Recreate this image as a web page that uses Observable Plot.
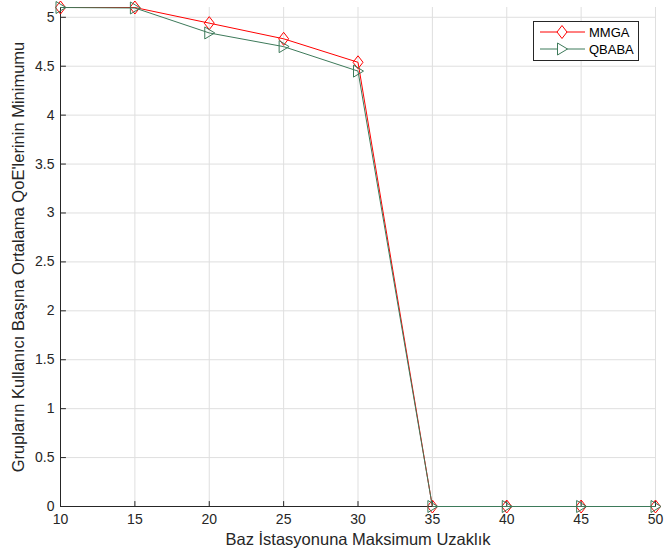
<!DOCTYPE html>
<html><head><meta charset="utf-8">
<script src="https://cdn.jsdelivr.net/npm/d3@7"></script>
<script src="https://cdn.jsdelivr.net/npm/@observablehq/plot@0.6"></script>
<style>
body{margin:0;background:#fff;}
#wrap{position:relative;width:664px;height:559px;font-family:"Liberation Sans",Arial,sans-serif;}
#legend{position:absolute;left:0;top:0;}
</style></head>
<body><div id="wrap"></div>
<script>
const distances = [10, 15, 20, 25, 30, 35, 40, 45, 50];
const mmgaValues = [5.10, 5.10, 4.94, 4.78, 4.54, 0, 0, 0, 0];
const qbabaValues = [5.10, 5.095, 4.84, 4.70, 4.45, 0, 0, 0, 0];
const xTicks = [10, 15, 20, 25, 30, 35, 40, 45, 50];
const yTicks = [0, 0.5, 1, 1.5, 2, 2.5, 3, 3.5, 4, 4.5, 5];
const seriesNames = ["MMGA", "QBABA"];
const seriesColors = ["#ff0000", "#3d7a5a"];
const xLabel = "Baz İstasyonuna Maksimum Uzaklık";
const yLabel = "Grupların Kullanıcı Başına Ortalama QoE'lerinin Minimumu";

const mmga = distances.map((d, i) => ({x: d, y: mmgaValues[i]}));
const qbaba = distances.map((d, i) => ({x: d, y: qbabaValues[i]}));

const diamond = {draw(c) { c.moveTo(0, -6.5); c.lineTo(5, 0); c.lineTo(0, 6.5); c.lineTo(-5, 0); c.closePath(); }};
const triRight = {draw(c) { c.moveTo(-4.5, -6); c.lineTo(5.5, 0); c.lineTo(-4.5, 6); c.closePath(); }};
const tickShape = {draw(c, l) { c.moveTo(0, 0); c.lineTo(0, -l); }};
const axisColor = "#262626";

const chart = Plot.plot({
  width: 664, height: 559,
  marginLeft: 60, marginRight: 9, marginTop: 7, marginBottom: 53,
  style: {fontFamily: '"Liberation Sans", Arial, sans-serif', color: axisColor, background: "#fff"},
  x: {domain: [10, 50], ticks: xTicks},
  y: {domain: [0, 5.1], ticks: yTicks},
  marks: [
    Plot.gridX(xTicks, {stroke: "#dfdfdf", strokeOpacity: 1}),
    Plot.gridY(yTicks, {stroke: "#dfdfdf", strokeOpacity: 1}),
    Plot.axisX(xTicks, {tickSize: 0, tickPadding: 8, fontSize: 14, label: null, fill: axisColor}),
    Plot.axisY(yTicks, {tickSize: 0, tickPadding: 6, fontSize: 14, tickFormat: d => String(d), label: null, fill: axisColor}),
    Plot.text([xLabel], {frameAnchor: "bottom", dy: 38, fontSize: 16.5, fill: axisColor, text: d => d}),
    Plot.text([yLabel], {frameAnchor: "left", textAnchor: "middle", dx: -42, rotate: -90, fontSize: 16.5, fill: axisColor, text: d => d}),
    Plot.vector(xTicks, {x: d => d, y: 0, length: 5, rotate: 0, anchor: "start", shape: tickShape, stroke: axisColor, strokeWidth: 1}),
    Plot.vector(yTicks, {x: 10, y: d => d, length: 5, rotate: 90, anchor: "start", shape: tickShape, stroke: axisColor, strokeWidth: 1}),
    Plot.ruleX([10], {stroke: axisColor}),
    Plot.ruleY([0], {stroke: axisColor}),
    Plot.line(mmga, {x: "x", y: "y", stroke: seriesColors[0], strokeWidth: 1}),
    Plot.dot(mmga, {x: "x", y: "y", symbol: diamond, r: 5, stroke: seriesColors[0], fill: "none", strokeWidth: 1}),
    Plot.line(qbaba, {x: "x", y: "y", stroke: seriesColors[1], strokeWidth: 1}),
    Plot.dot(qbaba, {x: "x", y: "y", symbol: triRight, r: 5, stroke: seriesColors[1], fill: "none", strokeWidth: 1})
  ]
});
const wrap = document.getElementById("wrap");
wrap.appendChild(chart);

// legend
const lg = d3.select(wrap).append("svg").attr("id", "legend").attr("width", 664).attr("height", 80);
lg.append("rect").attr("x", 533.5).attr("y", 21.5).attr("width", 105).attr("height", 39).attr("fill", "#fff").attr("stroke", axisColor).attr("stroke-width", 1);
const rows = [32, 49];
const shapes = [diamond, triRight];
seriesNames.forEach((name, i) => {
  const y = rows[i];
  lg.append("line").attr("x1", 540).attr("x2", 585).attr("y1", y).attr("y2", y).attr("stroke", seriesColors[i]);
  const p = d3.path(); shapes[i].draw(p);
  lg.append("path").attr("d", p.toString()).attr("transform", `translate(562,${y})`).attr("fill", "#fff").attr("stroke", seriesColors[i]);
  lg.append("text").attr("x", 589).attr("y", y).attr("dy", "0.36em").attr("font-size", 13).attr("fill", "#000").style("font-family", '"Liberation Sans", Arial, sans-serif').text(name);
});
</script></body></html>
